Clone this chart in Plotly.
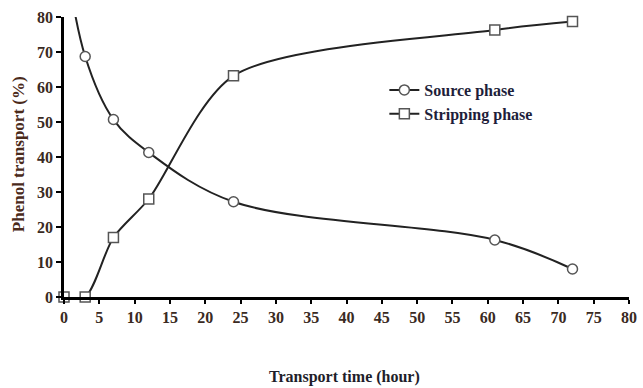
import plotly.graph_objects as go

time_source = [0, 3, 7, 12, 24, 61, 72]
source_phase = [100, 68.7, 50.7, 41.3, 27.2, 16.3, 8.0]
time_strip = [0, 3, 7, 12, 24, 61, 72]
stripping_phase = [0, 0, 17.0, 28.0, 63.2, 76.3, 78.7]
x_ticks = list(range(0, 85, 5))
y_ticks = list(range(0, 90, 10))

font_family = "Liberation Serif, Times New Roman, serif"
label_color = "#3a2a22"

fig = go.Figure()
fig.add_trace(go.Scatter(
    x=time_source, y=source_phase, name="<b>Source phase</b>",
    mode="lines+markers", legendgroup="a",
    line=dict(color="#222222", width=2, shape="spline", smoothing=1.0),
    marker=dict(symbol="circle", size=10, color="white",
                line=dict(color="#555555", width=1.5)),
    cliponaxis=True,
))
fig.add_trace(go.Scatter(
    x=time_strip, y=stripping_phase, name="<b>Stripping phase</b>",
    mode="lines+markers", legendgroup="b",
    line=dict(color="#222222", width=2, shape="spline", smoothing=0.8),
    marker=dict(symbol="square", size=10, color="white",
                line=dict(color="#555555", width=1.5)),
    cliponaxis=False,
))

fig.update_layout(
    width=643, height=388,
    margin=dict(l=64, r=14, t=17, b=91),
    paper_bgcolor="white", plot_bgcolor="white",
    font=dict(family=font_family, size=16, color=label_color),
    legend=dict(x=0.567, y=0.80, xanchor="left", yanchor="top",
                bgcolor="rgba(0,0,0,0)", font=dict(size=16, color="#1e1e3a"),
                itemwidth=30, tracegroupgap=0),
    annotations=[
        dict(text="<b>Transport time (hour)</b>", xref="paper", yref="paper",
             x=0.497, y=0, yanchor="middle", yshift=-80, showarrow=False,
             font=dict(size=16, color="#1e1e2a")),
        dict(text="<b>Phenol transport (%)</b>", xref="paper", yref="paper",
             x=0, y=0.51, xanchor="center", xshift=-46, textangle=-90, showarrow=False,
             font=dict(size=17, color="#4a2a1a")),
    ],
)
fig.update_xaxes(
    range=[0, 80], tickvals=x_ticks,
    ticktext=[f"<b>{v}</b>" for v in x_ticks], automargin=False,
    showline=True, linecolor="black", linewidth=2.5,
    ticks="outside", ticklen=4, tickwidth=2, tickcolor="black",
    showgrid=False, zeroline=False,
)
fig.update_yaxes(
    range=[0, 80], tickvals=y_ticks,
    ticktext=[f"<b>{v}</b>" for v in y_ticks], automargin=False,
    showline=True, linecolor="black", linewidth=2.5,
    ticks="outside", ticklen=5, tickwidth=2, tickcolor="black",
    showgrid=False, zeroline=False,
)

fig.write_html("out.html", config={"displayModeBar": False},
               post_script="document.body.style.margin='0';")
